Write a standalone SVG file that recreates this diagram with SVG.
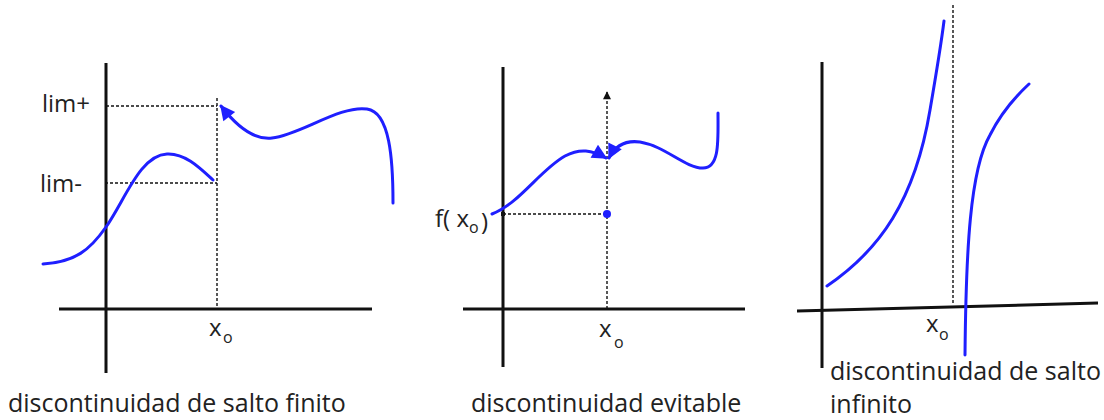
<svg xmlns="http://www.w3.org/2000/svg" width="1104" height="420" viewBox="0 0 1104 420">
<style>
  .axis{stroke:#111;stroke-width:3;fill:none}
  .dash{stroke:#111;stroke-width:1.4;stroke-dasharray:3 2;fill:none}
  .curve{stroke:#1f1fff;stroke-width:3;fill:none;stroke-linecap:round}
  text{font-family:"Open Sans","Liberation Sans",sans-serif;fill:#222}
  .cap{font-size:25px}
  .lab{font-size:24px}
  .sub{font-size:16px}
</style>
<defs>
  <marker id="ab" viewBox="0 0 10 10" refX="9" refY="5" markerUnits="userSpaceOnUse" markerWidth="18" markerHeight="15" orient="auto-start-reverse">
    <path d="M0,0 L10,5 L0,10 z" fill="#1f1fff"/>
  </marker>
  <marker id="ak" viewBox="0 0 10 10" refX="9" refY="5" markerUnits="userSpaceOnUse" markerWidth="9" markerHeight="8" orient="auto">
    <path d="M0,0 L10,5 L0,10 z" fill="#111"/>
  </marker>
</defs>
<rect width="1104" height="420" fill="#fff"/>

<g id="panel-finito">
  <line class="axis" x1="106" y1="63" x2="106" y2="373"/>
  <line class="axis" x1="59" y1="309" x2="372" y2="309"/>
  <line class="dash" x1="217" y1="98" x2="217" y2="309"/>
  <line class="dash" x1="106" y1="106" x2="217" y2="106"/>
  <line class="dash" x1="105" y1="183" x2="217" y2="183"/>
  <path class="curve" d="M43,264 C75,262 90,250 106,227 C125,200 140,155 167,154 C185,153 200,168 213,180"/>
  <path class="curve" d="M221,106 C238,128 255,140 272,138 C300,135 340,105 367,109 C390,112 393,160 393,203" marker-start="url(#ab)"/>
  <text class="lab" x="42" y="112">lim+</text>
  <text class="lab" x="40" y="192">lim-</text>
  <text class="lab" x="209" y="336">x<tspan class="sub" x="223" y="343">o</tspan></text>
  <text class="cap" x="8" y="412">discontinuidad de salto finito</text>
</g>

<g id="panel-evitable">
  <line class="axis" x1="503" y1="67" x2="503" y2="367"/>
  <line class="axis" x1="463" y1="309" x2="745" y2="309"/>
  <line class="dash" x1="607" y1="309" x2="607" y2="92" marker-end="url(#ak)"/>
  <line class="dash" x1="503" y1="214" x2="607" y2="214"/>
  <rect x="501" y="212" width="4" height="4" fill="#111"/>
  <circle cx="607" cy="214" r="4" fill="#1f1fff"/>
  <path class="curve" d="M492,214 C520,203 540,170 565,156 C580,148 592,150 606,158" marker-end="url(#ab)"/>
  <path class="curve" d="M609,158 C615,146 625,140 640,142 C665,146 685,168 703,168 C720,168 718,140 718,113" marker-start="url(#ab)"/>
  <text class="lab" x="435" y="227">f( x<tspan class="sub" x="469" y="233">o</tspan><tspan x="481" y="230">)</tspan></text>
  <text class="lab" x="599" y="337">x<tspan class="sub" x="614" y="348">o</tspan></text>
  <text class="cap" x="471" y="412">discontinuidad evitable</text>
</g>

<g id="panel-infinito">
  <line class="axis" x1="822" y1="62" x2="822" y2="368"/>
  <line class="axis" x1="797" y1="311" x2="1098" y2="303"/>
  <line class="dash" x1="953" y1="5" x2="953" y2="305"/>
  <path class="curve" d="M827,286 C880,250 915,200 930,110 C936,75 941,45 944,21"/>
  <path class="curve" d="M965,355 C966,250 970,170 990,135 C1000,115 1015,97 1029,84"/>
  <text class="lab" x="926" y="332">x<tspan class="sub" x="939" y="340">o</tspan></text>
  <text class="cap" x="830" y="380">discontinuidad de salto</text>
  <text class="cap" x="830" y="413">infinito</text>
</g>
</svg>
